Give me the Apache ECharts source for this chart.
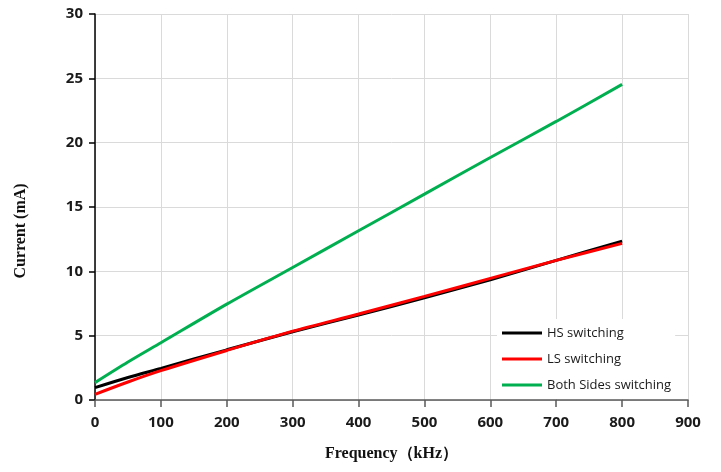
<!DOCTYPE html>
<html>
<head>
<meta charset="utf-8">
<script src="https://cdn.jsdelivr.net/npm/echarts@6/dist/echarts.min.js"></script>
<style>html,body{margin:0;padding:0;background:#fff;}#c{width:721px;height:472px;}</style>
</head>
<body>
<div id="c"></div>
<script>
const freq = [0, 50, 100, 200, 300, 400, 500, 600, 700, 800];
const hsValues = [0.96, 1.75, 2.46, 3.9, 5.3, 6.6, 7.95, 9.35, 10.85, 12.35];
const lsValues = [0.44, 1.4, 2.28, 3.85, 5.35, 6.68, 8.05, 9.45, 10.85, 12.17];
const bothValues = [1.35, 2.95, 4.45, 7.45, 10.3, 13.15, 16.0, 18.85, 21.65, 24.53];
const seriesNames = ['HS switching', 'LS switching', 'Both Sides switching'];
const xTitle = 'Frequency（kHz）';
const yTitle = 'Current (mA)';

const pair = (xs, ys) => xs.map((x, i) => [x, ys[i]]);
const chart = echarts.init(document.getElementById('c'), null, {renderer: 'canvas'});
const lineSeries = (name, vals, color) => ({
  name, type: 'line', data: pair(freq, vals), symbol: 'none', smooth: 0.3,
  lineStyle: {color, width: 3}, itemStyle: {color}, z: 3
});
chart.setOption({
  animation: false,
  backgroundColor: '#fff',
  grid: {left: 95, right: 33, top: 14, bottom: 72},
  xAxis: {
    type: 'value', min: 0, max: 900, interval: 100,
    name: xTitle, nameLocation: 'middle', nameGap: 46,
    nameTextStyle: {fontFamily: 'Liberation Serif', fontWeight: 'bold', fontSize: 16, color: '#111'},
    axisLine: {show: true, onZero: false, lineStyle: {color: '#595959', width: 1.5}},
    axisTick: {show: true, length: 7, lineStyle: {color: '#595959', width: 1.5}},
    axisLabel: {margin: 15, fontFamily: 'Open Sans', fontWeight: 'bold', fontSize: 15, color: '#1a1a1a'},
    splitLine: {show: true, lineStyle: {color: '#dadada', width: 1}}
  },
  yAxis: {
    type: 'value', min: 0, max: 30, interval: 5,
    axisLine: {show: true, lineStyle: {color: '#000', width: 1.5}},
    axisTick: {show: true, length: 6, lineStyle: {color: '#000', width: 1.5}},
    axisLabel: {margin: 12, fontFamily: 'Open Sans', fontWeight: 'bold', fontSize: 15, color: '#1a1a1a'},
    splitLine: {show: true, lineStyle: {color: '#dadada', width: 1}}
  },
  legend: {
    orient: 'vertical', left: 497, top: 319, itemWidth: 40, itemHeight: 3, itemGap: 8,
    icon: 'rect',
    backgroundColor: '#fff', padding: [5, 4, 5, 5],
    textStyle: {fontFamily: 'Open Sans', fontSize: 13, color: '#1a1a1a', lineHeight: 18},
    data: seriesNames
  },
  graphic: [{
    type: 'text', x: 21, y: 231, rotation: Math.PI / 2,
    style: {text: yTitle, fontFamily: 'Liberation Serif', fontWeight: 'bold', fontSize: 16, fill: '#111', textAlign: 'center', textVerticalAlign: 'middle'}
  }],
  series: [
    lineSeries(seriesNames[0], hsValues, '#000000'),
    lineSeries(seriesNames[1], lsValues, '#ff0000'),
    lineSeries(seriesNames[2], bothValues, '#00b050')
  ]
});
</script>
</body>
</html>
